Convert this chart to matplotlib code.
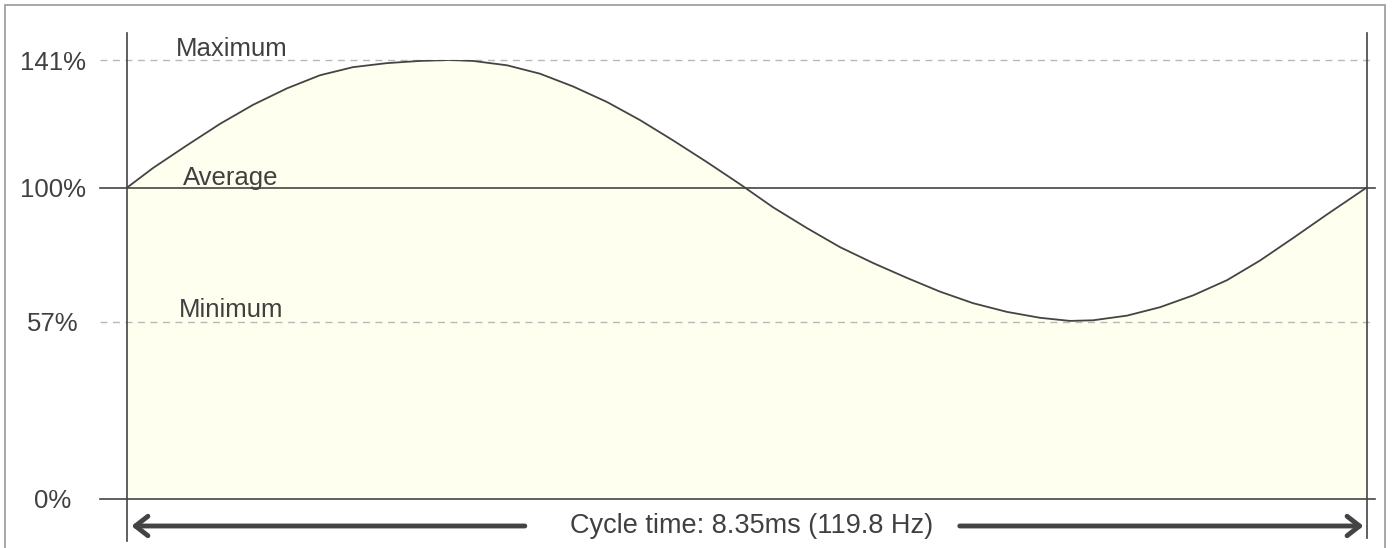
import matplotlib
matplotlib.use('Agg')
import matplotlib.pyplot as plt
from matplotlib.patches import Rectangle

plt.rcParams['font.family'] = ['Liberation Sans', 'DejaVu Sans']

# Data: one cycle of the output level (in % of average)
cycle_ms = [0, 0.175, 0.404, 0.627, 0.849, 1.078, 1.300, 1.522, 1.752, 1.974,
            2.176, 2.331, 2.560, 2.782, 3.005, 3.234, 3.456, 3.678, 3.907, 4.130,
            4.352, 4.581, 4.803, 5.026, 5.255, 5.477, 5.699, 5.928, 6.151, 6.353,
            6.508, 6.737, 6.959, 7.182, 7.411, 7.633, 7.855, 8.084, 8.35]
level_pct = [100, 106.3, 113.6, 120.5, 126.6, 131.9, 136.1, 138.7, 140.0, 140.7,
             141.0, 140.7, 139.3, 136.6, 132.5, 127.5, 121.7, 115.2, 108.2, 101.1,
             93.7, 87.0, 80.9, 75.8, 71.0, 66.6, 62.9, 60.1, 58.2, 57.2,
             57.4, 58.9, 61.6, 65.4, 70.3, 76.6, 83.8, 91.4, 100]

tick_values = [0, 57, 100, 141]
tick_labels = ['0%', '57%', '100%', '141%']
ref_names = ['Maximum', 'Average', 'Minimum']
ref_values = [141, 100, 57]
cycle_time = 8.35
cycle_label = 'Cycle time: 8.35ms (119.8 Hz)'

dark = '#444444'
text_col = '#404040'

fig = plt.figure(figsize=(13.93, 5.48), dpi=100)
ax = fig.add_axes([127 / 1393, 49 / 548, 1239.5 / 1393, 439 / 548])
ax.set_xlim(0, cycle_time)
ax.set_ylim(0, 141)
for s in ax.spines.values():
    s.set_visible(False)
ax.set_xticks([])
ax.set_yticks(tick_values)
ax.set_yticklabels(tick_labels)
ax.tick_params(axis='y', length=0, pad=53.3, labelsize=18.5, labelcolor=text_col)
for lab in ax.get_yticklabels():
    lab.set_horizontalalignment('center')

# curve with fill
ax.fill_between(cycle_ms, 0, level_pct, color='#fffff0', zorder=1, lw=0)
ax.plot(cycle_ms, level_pct, color=dark, lw=1.3, zorder=4,
        solid_joinstyle='round', solid_capstyle='round')

# reference lines
x0, x1 = -0.182, 8.41
ax.plot([x0, x1], [141, 141], color='#b8b8b8', lw=1, ls=(0, (5, 4)), clip_on=False, zorder=2)
ax.plot([x0, x1], [57, 57], color='#b8b8b8', lw=1, ls=(0, (5, 4)), clip_on=False, zorder=2)
ax.plot([x0, x1], [100, 100], color=dark, lw=1.2, clip_on=False, zorder=3)
ax.plot([x0, x1], [0, 0], color=dark, lw=1.2, clip_on=False, zorder=3)

# cycle boundaries
ax.plot([0, 0], [149.7, -13.5], color=dark, lw=1.2, clip_on=False, zorder=3)
ax.plot([cycle_time, cycle_time], [149.7, -12.5], color=dark, lw=1.2, clip_on=False, zorder=3)

# labels on the reference lines
offsets = [1.3, 0.9, 1.4]
lefts = [0.33, 0.377, 0.35]
for name, val, off, lx in zip(ref_names, ref_values, offsets, lefts):
    ax.text(lx, val + off, name, fontsize=18.5, color=text_col, va='baseline', ha='left')

# cycle time arrows
arr_y = -8.67
props = dict(arrowstyle='->,head_length=0.45,head_width=0.35', color=dark, lw=3.5,
             mutation_scale=20, capstyle='round', shrinkA=0, shrinkB=0)
ax.annotate('', xy=(0.03, arr_y), xytext=(2.68, arr_y), arrowprops=props, annotation_clip=False)
ax.annotate('', xy=(cycle_time - 0.02, arr_y), xytext=(5.61, arr_y), arrowprops=props,
            annotation_clip=False)
ax.text(4.21, arr_y, cycle_label, fontsize=19.5, color=text_col, ha='center', va='center')

# outer frame
fig.add_artist(Rectangle((5 / 1393, -0.05), 1380 / 1393, 543 / 548 + 0.05,
                         transform=fig.transFigure, fill=False, edgecolor='#a0a0a0', lw=1.3))

fig.savefig('out.png', dpi=100)
